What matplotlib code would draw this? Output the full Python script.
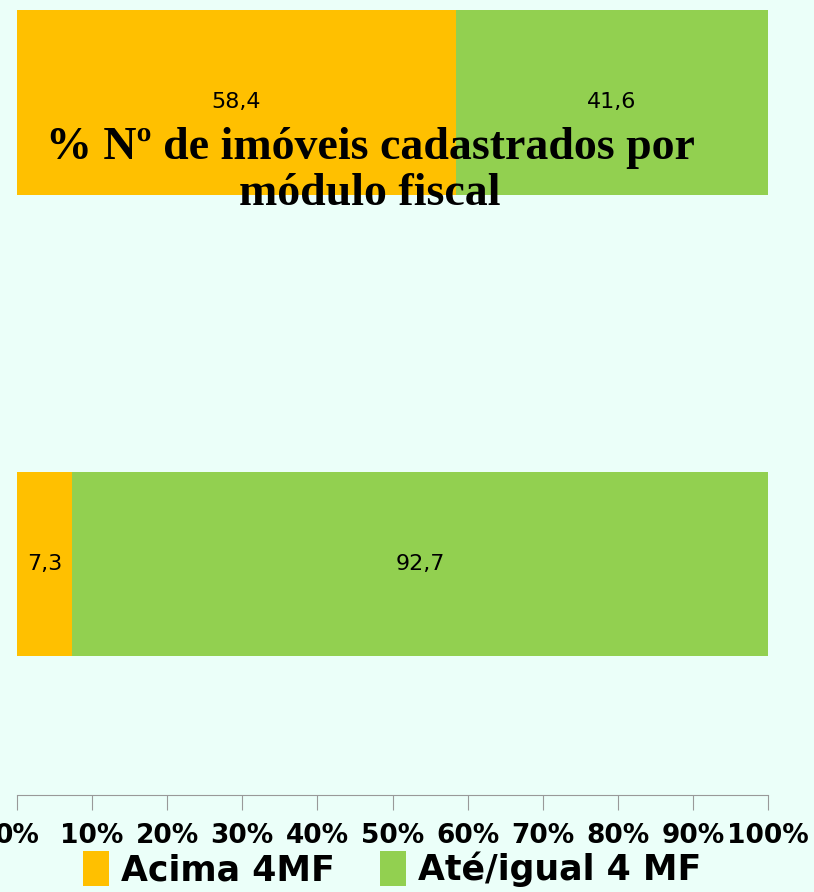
import matplotlib.pyplot as plt
import matplotlib.ticker as mticker
import numpy as np

categorias = ["Área", "Nº de imóveis"]
acima_4mf = [58.4, 7.3]
ate_4mf = [41.6, 92.7]
series = ["Acima 4MF", "Até/igual 4 MF"]
cores = ["#FFC000", "#92D050"]
titulo = "% Nº de imóveis cadastrados por\nmódulo fiscal"

bg = "#EBFFF9"
fig = plt.figure(figsize=(8.14, 8.92), dpi=100, facecolor=bg)
ax = fig.add_axes([17 / 814, 97 / 892, 751 / 814, 785 / 892])
ax.set_facecolor(bg)

y = np.array([1, 0])
ax.barh(y, acima_4mf, height=0.4, color=cores[0], label=series[0])
ax.barh(y, ate_4mf, left=acima_4mf, height=0.4, color=cores[1], label=series[1])

for i, yy in enumerate(y):
    a, b = acima_4mf[i], ate_4mf[i]
    ax.text(a / 2, yy, f"{a:.1f}".replace(".", ","), ha="center", va="center",
            fontsize=16)
    ax.text(a + b / 2, yy, f"{b:.1f}".replace(".", ","), ha="center", va="center",
            fontsize=16)

ax.set_xlim(0, 100)
ax.set_ylim(-0.5, 1.2)
ax.xaxis.set_major_locator(mticker.MultipleLocator(10))
ax.xaxis.set_major_formatter(mticker.FuncFormatter(lambda v, p: f"{v:.0f}%"))
ax.set_yticks([])
for s in ["left", "right", "top"]:
    ax.spines[s].set_visible(False)
ax.spines["bottom"].set_color("#999999")
ax.tick_params(axis="x", colors="#999999", length=11, pad=9, labelcolor="black")
for lbl in ax.get_xticklabels():
    lbl.set_fontsize(19)
    lbl.set_fontweight("bold")

fig.text(370 / 814, 1 - 171 / 892, titulo, ha="center", va="center",
         fontsize=33, fontweight="bold", family="Liberation Serif", linespacing=1.15)

leg = fig.legend(loc="center", bbox_to_anchor=(392 / 814, 1 - 869 / 892), ncol=2,
                 frameon=False, handlelength=0.75, handleheight=1.2,
                 handletextpad=0.35, columnspacing=1.3,
                 prop={"weight": "bold", "size": 25})

fig.savefig("out.png", dpi=100, facecolor=bg)
